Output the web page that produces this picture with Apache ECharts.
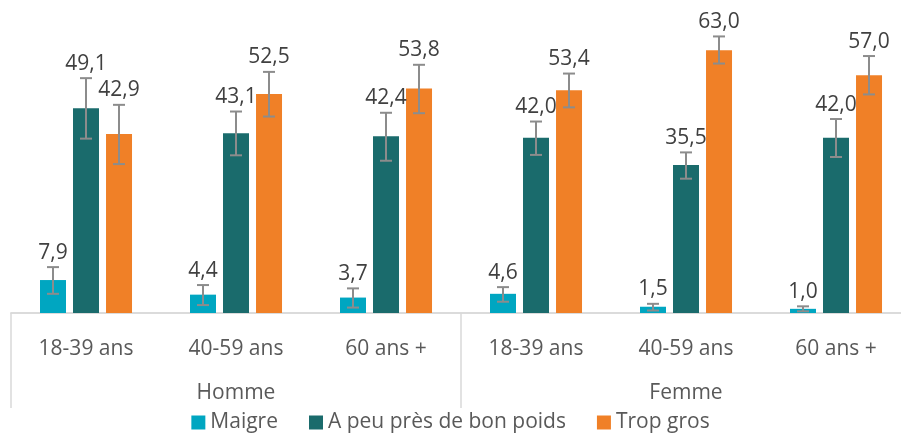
<!DOCTYPE html>
<html>
<head>
    <meta charset="UTF-8">
    <title>Poids</title>
    <script src="https://cdn.jsdelivr.net/npm/echarts@6/dist/echarts.min.js"></script>
    <style>html,body{margin:0;padding:0;background:#fff;} #chart{width:901px;height:434px;}</style>
</head>
<body>
<div id="chart"></div>
<script>
    // données
    var categories = ['18-39 ans', '40-59 ans', '60 ans +', '18-39 ans', '40-59 ans', '60 ans +'];
    var groups = ['Homme', 'Femme'];
    var seriesNames = ['Maigre', 'A peu près de bon poids', 'Trop gros'];

    var maigre   = [7.9, 4.4, 3.7, 4.6, 1.5, 1.0];
    var bonPoids = [49.1, 43.1, 42.4, 42.0, 35.5, 42.0];
    var tropGros = [42.9, 52.5, 53.8, 53.4, 63.0, 57.0];

    // intervalles (bas / haut)
    var maigreLow    = [4.6, 1.9, 1.3, 2.7, 0.6, 0.4];
    var maigreHigh   = [11.0, 6.7, 5.9, 6.2, 2.2, 1.6];
    var bonPoidsLow  = [41.8, 37.8, 36.5, 37.9, 32.2, 37.4];
    var bonPoidsHigh = [56.3, 48.3, 48.0, 45.9, 38.5, 46.5];
    var tropGrosLow  = [35.7, 47.1, 47.9, 49.3, 59.8, 52.4];
    var tropGrosHigh = [49.9, 57.8, 59.5, 57.4, 66.3, 61.6];

    var colors = ['#00a6c1', '#1a6b6c', '#f08027'];
    var barW = 26, gap = 7;
    var fontFam = 'Open Sans';

    function fmt(v) { return v.toFixed(1).replace('.', ','); }

    function errData(vals, low, high) {
        var res = [];
        for (var i = 0; i < vals.length; i++) {
            res.push([i, low[i], high[i], vals[i]]);
        }
        return res;
    }

    function errSeries(k, vals, low, high) {
        var off = (k - 1) * (barW + gap);
        return {
            type: 'custom',
            xAxisIndex: 0,
            z: 5,
            silent: true,
            encode: { x: 0, y: [1, 2] },
            data: errData(vals, low, high),
            renderItem: function (params, api) {
                var lo = api.coord([api.value(0), api.value(1)]);
                var hi = api.coord([api.value(0), api.value(2)]);
                var x = lo[0] + off;
                var st = { stroke: '#8c8c8c', lineWidth: 2 };
                return {
                    type: 'group',
                    children: [
                        { type: 'line', shape: { x1: x, y1: lo[1], x2: x, y2: hi[1] }, style: st },
                        { type: 'line', shape: { x1: x - 6, y1: lo[1], x2: x + 6, y2: lo[1] }, style: st },
                        { type: 'line', shape: { x1: x - 6, y1: hi[1], x2: x + 6, y2: hi[1] }, style: st },
                        { type: 'text', style: {
                            text: fmt(api.value(3)), x: x, y: hi[1] - 4,
                            align: 'center', verticalAlign: 'bottom',
                            fill: '#404040', fontSize: 21, fontFamily: fontFam
                        } }
                    ]
                };
            }
        };
    }

    var myChart = echarts.init(document.getElementById('chart'));

    var option = {
        backgroundColor: '#fff',
        animation: false,
        color: colors,
        grid: { left: 11, width: 900, top: 21, bottom: 121, outerBoundsMode: 'none', containLabel: false },
        legend: {
            data: seriesNames,
            top: 407,
            left: 'center',
            icon: 'rect',
            itemWidth: 14,
            itemHeight: 14,
            itemGap: 31,
            textStyle: { color: '#595959', fontSize: 21, fontFamily: fontFam }
        },
        xAxis: [{
            type: 'category',
            data: categories,
            axisLine: { lineStyle: { color: '#d9d9d9', width: 1.5 } },
            axisTick: { show: false },
            axisLabel: { margin: 26, color: '#595959', fontSize: 21, fontFamily: fontFam }
        }, {
            type: 'category',
            data: groups,
            position: 'bottom',
            axisLine: { lineStyle: { color: '#d9d9d9', width: 1.5 } },
            axisTick: { show: true, length: 95, interval: 0, lineStyle: { color: '#d9d9d9', width: 1.5 } },
            axisLabel: { margin: 70, color: '#595959', fontSize: 21, fontFamily: fontFam }
        }],
        yAxis: { type: 'value', min: 0, max: 70, show: false, splitLine: { show: false } },
        series: [
            { name: seriesNames[0], type: 'bar', barWidth: barW, barGap: '27%', data: maigre },
            { name: seriesNames[1], type: 'bar', barWidth: barW, barGap: '27%', data: bonPoids },
            { name: seriesNames[2], type: 'bar', barWidth: barW, barGap: '27%', data: tropGros },
            errSeries(0, maigre, maigreLow, maigreHigh),
            errSeries(1, bonPoids, bonPoidsLow, bonPoidsHigh),
            errSeries(2, tropGros, tropGrosLow, tropGrosHigh)
        ]
    };
    myChart.setOption(option);
</script>
</body>
</html>
